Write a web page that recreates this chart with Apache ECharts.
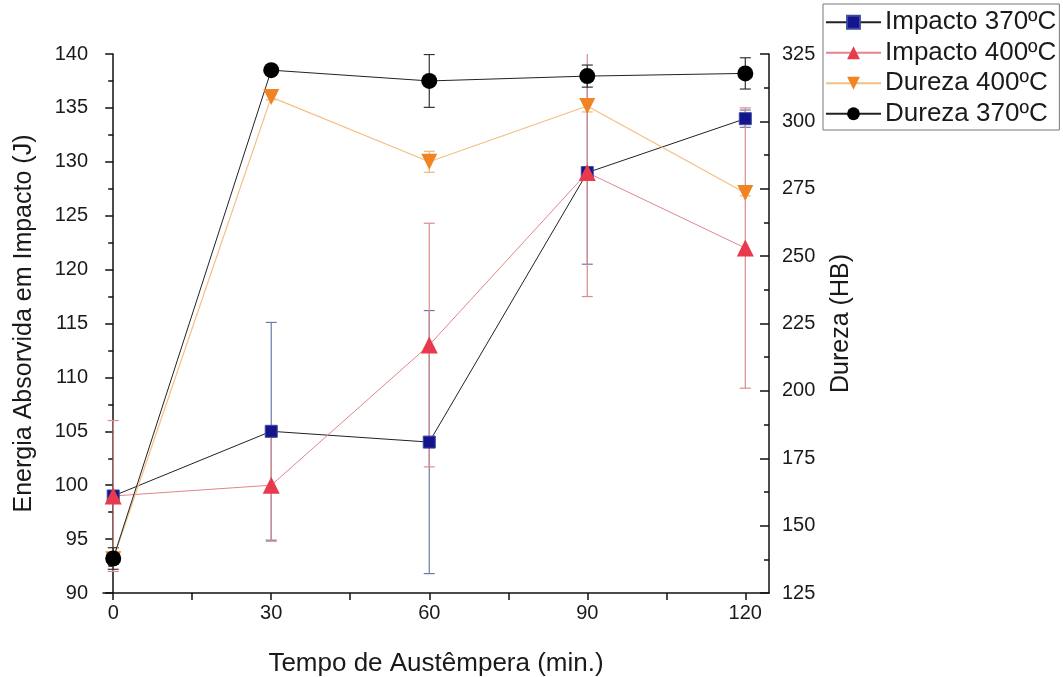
<!DOCTYPE html>
<html>
<head>
<meta charset="utf-8">
<script src="https://cdn.jsdelivr.net/npm/echarts@6/dist/echarts.min.js"></script>
<style>
html,body{margin:0;padding:0;background:#fff;}
#chart{width:1063px;height:677px;}
</style>
</head>
<body>
<div id="chart"></div>
<script>
const tempo = [0, 30, 60, 90, 120];
const xTickValues = [0, 15, 30, 45, 60, 75, 90, 105, 120];
const xLabelValues = [0, 30, 60, 90, 120];
const impacto370 = [99, 105, 104, 129, 134];
const impacto370Err = [0.5, 10.1, 12.2, 8.5, 0.8];
const impacto400 = [99, 100, 113, 129, 122];
const impacto400Err = [7, 5.2, 11.3, 11.5, 13];
const dureza400 = [137.5, 309, 285, 305.7, 273.4];
const dureza400Err = [1, 1, 3.9, 2.2, 1];
const dureza370 = [137.8, 319, 315, 316.8, 317.8];
const dureza370Err = [4, 1.5, 9.8, 4.1, 5.8];

const FONT = '"Liberation Sans", Arial, sans-serif';
const TXT = '#1a1a1a';

function pairs(vals) { return tempo.map((t, i) => [t, vals[i]]); }
function errData(vals, errs) { return tempo.map((t, i) => [t, vals[i] - errs[i], vals[i] + errs[i]]); }

function errorSeries(vals, errs, yIdx, color) {
  return {
    type: 'custom',
    yAxisIndex: yIdx,
    z: 1,
    silent: true,
    clip: true,
    data: errData(vals, errs),
    renderItem: function (params, api) {
      const x = api.value(0);
      const lo = api.coord([x, api.value(1)]);
      const hi = api.coord([x, api.value(2)]);
      const w = 5.5;
      const st = { stroke: color, lineWidth: 1.2 };
      return {
        type: 'group',
        children: [
          { type: 'line', shape: { x1: lo[0], y1: lo[1], x2: hi[0], y2: hi[1] }, style: st },
          { type: 'line', shape: { x1: lo[0] - w, y1: lo[1], x2: lo[0] + w, y2: lo[1] }, style: st },
          { type: 'line', shape: { x1: hi[0] - w, y1: hi[1], x2: hi[0] + w, y2: hi[1] }, style: st }
        ]
      };
    }
  };
}

const chart = echarts.init(document.getElementById('chart'), null, { renderer: 'canvas' });

const axisLine = { show: true, lineStyle: { color: '#111', width: 1.5 } };
const tickStyle = { color: '#111', width: 1.5 };

const option = {
  animation: false,
  backgroundColor: '#fff',
  textStyle: { fontFamily: FONT },
  grid: { left: 103, right: 294, top: 54, bottom: 84, containLabel: false, outerBoundsMode: 'none' },
  legend: {
    left: 823, top: 4,
    orient: 'vertical',
    padding: [3, 3, 1, 2],
    itemWidth: 55, itemHeight: 16, itemGap: 0,
    borderColor: '#777', borderWidth: 1,
    textStyle: { fontFamily: FONT, fontSize: 26, color: TXT, lineHeight: 30.5, padding: [0, 0, 0, -1] },
    data: ['Impacto 370ºC', 'Impacto 400ºC', 'Dureza 400ºC', 'Dureza 370ºC']
  },
  xAxis: [{
    type: 'value', min: -1.94, max: 124.5,
    name: 'Tempo de Austêmpera (min.)', nameLocation: 'middle', nameGap: 58,
    nameTextStyle: { fontFamily: FONT, fontSize: 26, color: TXT },
    axisLine: axisLine,
    axisTick: { show: true, inside: false, length: 7, lineStyle: tickStyle, customValues: xTickValues },
    axisLabel: { customValues: xLabelValues, fontFamily: FONT, fontSize: 20, color: TXT, margin: 10 },
    splitLine: { show: false }
  }],
  yAxis: [{
    type: 'value', min: 90, max: 140, interval: 5, position: 'left',
    name: 'Energia Absorvida em Impacto (J)', nameLocation: 'middle', nameRotate: 90, nameGap: 66,
    nameTextStyle: { fontFamily: FONT, fontSize: 25, color: TXT },
    axisLine: axisLine,
    axisTick: { show: true, inside: false, length: 8, lineStyle: tickStyle },
    minorTick: { show: true, splitNumber: 2, length: 5, lineStyle: tickStyle },
    axisLabel: { fontFamily: FONT, fontSize: 20, color: TXT, margin: 15 },
    splitLine: { show: false }, minorSplitLine: { show: false }
  }, {
    type: 'value', min: 125, max: 325, interval: 25, position: 'right',
    name: 'Dureza (HB)', nameLocation: 'middle', nameRotate: 90, nameGap: 60,
    nameTextStyle: { fontFamily: FONT, fontSize: 25, color: TXT },
    axisLine: axisLine,
    axisTick: { show: true, inside: true, length: 9, lineStyle: tickStyle },
    minorTick: { show: true, splitNumber: 2, length: 5, lineStyle: tickStyle },
    axisLabel: { fontFamily: FONT, fontSize: 20, color: TXT, margin: 13 },
    splitLine: { show: false }, minorSplitLine: { show: false }
  }],
  series: [
    errorSeries(impacto370, impacto370Err, 0, '#6c7aa6'),
    errorSeries(impacto400, impacto400Err, 0, '#d98c8e'),
    errorSeries(dureza400, dureza400Err, 1, '#f2b47a'),
    errorSeries(dureza370, dureza370Err, 1, '#333333'),
    {
      name: 'Impacto 370ºC', type: 'line', yAxisIndex: 0, data: pairs(impacto370),
      symbol: 'rect', symbolSize: 12,
      lineStyle: { color: '#222', width: 1 },
      itemStyle: { color: '#14148c', borderColor: '#3a4aa0', borderWidth: 1 }
    },
    {
      name: 'Impacto 400ºC', type: 'line', yAxisIndex: 0, data: pairs(impacto400),
      symbol: 'triangle', symbolSize: 17,
      lineStyle: { color: '#e0868c', width: 1 },
      itemStyle: { color: '#e8394d' }
    },
    {
      name: 'Dureza 400ºC', type: 'line', yAxisIndex: 1, data: pairs(dureza400),
      symbol: 'triangle', symbolRotate: 180, symbolSize: 16,
      lineStyle: { color: '#f3bf82', width: 1.2 },
      itemStyle: { color: '#f08424' }
    },
    {
      name: 'Dureza 370ºC', type: 'line', yAxisIndex: 1, data: pairs(dureza370),
      symbol: 'circle', symbolSize: 16,
      lineStyle: { color: '#222', width: 1 },
      itemStyle: { color: '#000' }
    }
  ]
};
chart.setOption(option);
</script>
</body>
</html>
